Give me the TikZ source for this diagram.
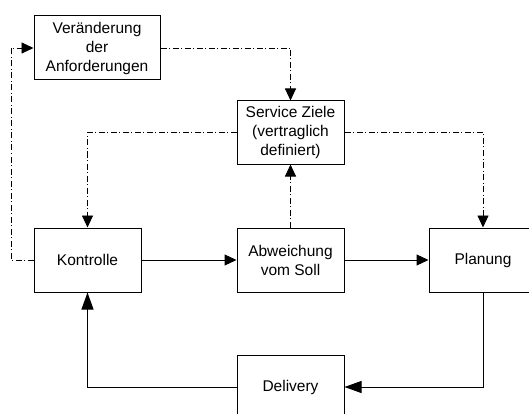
\documentclass[tikz,border=0pt]{standalone}
\usepackage{fontspec}
\setmainfont{Liberation Sans}
\usetikzlibrary{arrows.meta}
\begin{document}
\begin{tikzpicture}[x=1pt,y=-1pt,
  box/.style={draw, line width=1pt, minimum width=107pt, minimum height=64pt, inner sep=0pt, align=center, font=\fontsize{15.5}{19}\selectfont},
  dd/.style={line width=0.9pt, dash pattern=on 6pt off 2.5pt on 1pt off 2.5pt},
  sol/.style={line width=1pt},
  tip/.style={-{Triangle[length=12pt,width=11pt]}},
  longtip/.style={-{Triangle[length=17pt,width=12pt]}}
]
\useasboundingbox (0,0) rectangle (529,414);
\clip (0,0) rectangle (529,414);
\node[box, minimum width=126pt] (ver) at (97,48) {Veränderung\\der\\Anforderungen};
\node[box, minimum height=63pt] (svc) at (290.5,132.5) {Service Ziele\\(vertraglich\\definiert)};
\node[box] (kon) at (87.5,260) {Kontrolle};
\node[box] (abw) at (290.5,260) {Abweichung\\vom Soll};
\node[box, minimum width=108pt] (pla) at (483,260) {Planung};
\node[box] (del) at (290.5,387) {Delivery};
\coordinate (c1) at (11,260);
\draw[dd, tip] (ver.east) -| (svc.north);
\draw[dd, tip] (svc.west) -| (kon.north);
\draw[dd, tip] (svc.east) -| (pla.north);
\draw[dd, tip] (abw.north) -- (svc.south);
\draw[dd, tip] (kon.west) -- (c1) |- (ver.west);
\draw[sol, tip] (kon.east) -- (abw.west);
\draw[sol, tip] (abw.east) -- (pla.west);
\draw[sol, longtip] (pla.south) |- (del.east);
\draw[sol, longtip] (del.west) -| (kon.south);
\end{tikzpicture}
\end{document}
